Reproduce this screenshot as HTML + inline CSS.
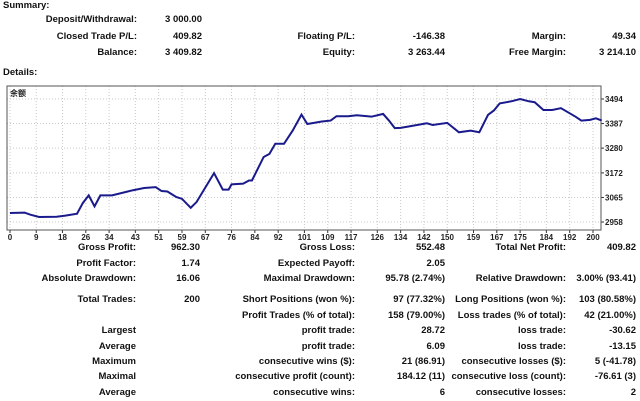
<!DOCTYPE html>
<html><head><meta charset="utf-8">
<style>
body{margin:0;width:640px;height:401px;background:#fff;position:relative;overflow:hidden;font-family:"Liberation Sans","Noto Sans CJK SC",sans-serif;font-size:9.5px;font-weight:bold;color:#111}
.t{position:absolute;white-space:nowrap;line-height:12px}
.r{text-align:right}
svg{position:absolute;left:0;top:0}
</style></head><body>
<div id="texts"></div>
<svg id="chart" width="640" height="401"></svg>
<script>
const trades=[0,5,7,10,16,19,23,25,27,29,31,35,42,46,50,52,54,57,59,62,64,70,73,75,76,80,82,83,87,89,91,94,97,100,102,107,110,112,116,119,124,128,130,132,134,143,145,150,154,158,161,164,166,168,172,175,178,180,183,186,189,194,196,199,201,203];
const balance=[2997,2999,2990,2980,2981,2986,2994,3041,3074,3026,3074,3074,3096,3106,3110,3093,3091,3067,3059,3020,3045,3171,3099,3099,3122,3125,3139,3139,3241,3255,3299,3299,3357,3426,3385,3396,3400,3419,3419,3423,3417,3429,3400,3367,3368,3388,3381,3390,3349,3356,3349,3425,3444,3475,3484,3494,3484,3480,3446,3446,3454,3417,3400,3403,3410,3400];
const xTicks=[0,9,18,26,34,43,51,59,67,76,84,92,101,109,117,126,134,142,150,159,167,175,184,192,200];
const yTicks=[2958,3065,3172,3280,3387,3494];

const NS="http://www.w3.org/2000/svg";
const svg=document.getElementById('chart');
const L=7,R=601,T=86,B=230;
const xs=t=>10+t*2.915;
const ys=v=>222-(v-2958)*(123/536);
function el(tag,attrs,parent){const e=document.createElementNS(NS,tag);for(const k in attrs)e.setAttribute(k,attrs[k]);(parent||svg).appendChild(e);return e;}

yTicks.forEach(v=>{
  const g=el('line',{x1:L,x2:R,y1:ys(v),y2:ys(v),stroke:'#c8c8c8','stroke-dasharray':'1,2'});
  
  
  const tx=el('text',{x:605,y:ys(v)+3,'font-size':'8','font-family':'Liberation Sans, sans-serif',fill:'#222'});
  tx.textContent=v;
  
  
  const tk=el('line',{x1:R,x2:R+3,y1:ys(v),y2:ys(v),stroke:'#333'});
  
  
});
xTicks.forEach(t=>{
  const g=el('line',{x1:xs(t),x2:xs(t),y1:T,y2:B,stroke:'#c8c8c8','stroke-dasharray':'1,2'});
  
  
  const tx=el('text',{x:xs(t),y:240,'font-size':'8','text-anchor':'middle','font-family':'Liberation Sans, sans-serif',fill:'#222'});
  tx.textContent=t;
  
  
  const tk=el('line',{x1:xs(t),x2:xs(t),y1:B,y2:B+3,stroke:'#333'});
  
  
});
const frame=el('rect',{x:L,y:T,width:R-L,height:B-T,fill:'none',stroke:'#555'});


const line=el('polyline',{points:trades.map((t,i)=>xs(t)+','+ys(balance[i])).join(' '),fill:'none',stroke:'#1a1a8c','stroke-width':'2'});


const lg=el('text',{x:10,y:96,'font-size':'8','font-family':'Noto Sans CJK SC, sans-serif',fill:'#222'});
lg.textContent='余额';



const box=document.getElementById('texts');
function add(txt,x,y,right,name){
  const d=document.createElement('div');
  d.className='t'+(right?' r':'');
  d.textContent=txt;
  if(right){d.style.right=(640-x)+'px';}else{d.style.left=x+'px';}
  d.style.top=(y-6)+'px';
  
  
  box.appendChild(d);
}
add('Summary:',3,6,false,'summary-heading');
add('Details:',3,73,false,'details-heading');
const top3=[
 [20,'Deposit/Withdrawal:','3 000.00','','','',''],
 [37,'Closed Trade P/L:','409.82','Floating P/L:','-146.38','Margin:','49.34'],
 [53,'Balance:','3 409.82','Equity:','3 263.44','Free Margin:','3 214.10']];
top3.forEach(r=>{
  add(r[1],137,r[0],true,'summary-label');add(r[2],202,r[0],true,'summary-value');
  if(r[3]){add(r[3],355,r[0],true,'summary-label');add(r[4],445,r[0],true,'summary-value');
  add(r[5],566,r[0],true,'summary-label');add(r[6],636,r[0],true,'summary-value');}
});
const det=[
 [248,'Gross Profit:','962.30','Gross Loss:','552.48','Total Net Profit:','409.82'],
 [264,'Profit Factor:','1.74','Expected Payoff:','2.05','',''],
 [279,'Absolute Drawdown:','16.06','Maximal Drawdown:','95.78 (2.74%)','Relative Drawdown:','3.00% (93.41)'],
 [300,'Total Trades:','200','Short Positions (won %):','97 (77.32%)','Long Positions (won %):','103 (80.58%)'],
 [316,'','','Profit Trades (% of total):','158 (79.00%)','Loss trades (% of total):','42 (21.00%)'],
 [331,'Largest','','profit trade:','28.72','loss trade:','-30.62'],
 [347,'Average','','profit trade:','6.09','loss trade:','-13.15'],
 [362,'Maximum','','consecutive wins ($):','21 (86.91)','consecutive losses ($):','5 (-41.78)'],
 [377,'Maximal','','consecutive profit (count):','184.12 (11)','consecutive loss (count):','-76.61 (3)'],
 [393,'Average','','consecutive wins:','6','consecutive losses:','2']];
det.forEach(r=>{
  if(r[1])add(r[1],136,r[0],true,'detail-label');
  if(r[2])add(r[2],200,r[0],true,'detail-value');
  add(r[3],355,r[0],true,'detail-label');add(r[4],445,r[0],true,'detail-value');
  if(r[5]){add(r[5],566,r[0],true,'detail-label');add(r[6],636,r[0],true,'detail-value');}
});
</script>
</body></html>
